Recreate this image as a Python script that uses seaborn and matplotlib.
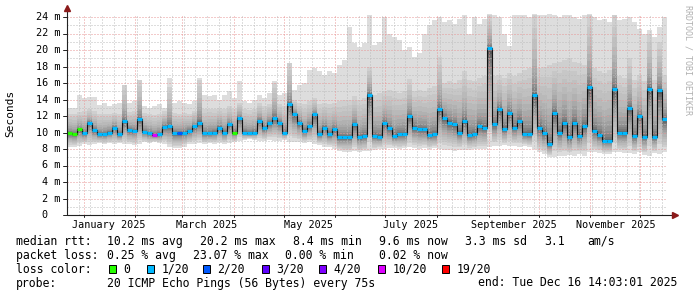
import numpy as np
import pandas as pd
import matplotlib
matplotlib.use("Agg")
import matplotlib.pyplot as plt
import matplotlib.dates as mdates
import matplotlib.transforms as mtransforms
from matplotlib.patches import Rectangle
import seaborn as sns

# ---------------- data (3-day consolidated bins, values in ms) ----------------
period_start = "2024-12-22"
bin_days = 3

median_ms = [9.9, 9.8, 10.4, 9.9, 11.2, 10.3, 9.8, 9.8, 10.0, 10.6,
             9.8, 11.4, 10.3, 10.2, 11.6, 10.1, 9.9, 9.7, 9.8, 10.7,
             10.8, 9.9, 9.9, 10.0, 10.2, 10.8, 11.2, 9.9, 9.9, 10.0,
             10.6, 10.0, 11.0, 10.0, 11.8, 10.0, 9.9, 10.0, 11.4, 10.5,
             11.2, 11.8, 11.2, 10.0, 13.4, 12.2, 11.2, 10.2, 10.8, 12.2,
             9.8, 10.6, 9.8, 10.4, 9.4, 9.4, 9.4, 11.0, 9.4, 9.6,
             14.6, 9.6, 9.5, 11.2, 10.5, 9.6, 9.8, 9.8, 12.0, 10.6,
             10.4, 10.4, 9.7, 9.8, 12.8, 11.8, 11.2, 11.0, 10.0, 11.4,
             9.7, 9.8, 10.8, 10.6, 20.2, 11.0, 12.8, 10.4, 12.4, 10.6,
             11.4, 9.8, 9.8, 14.5, 10.6, 9.9, 8.6, 12.4, 10.0, 11.2,
             9.4, 11.2, 9.6, 10.8, 15.5, 10.2, 9.7, 9.0, 9.0, 15.3,
             10.0, 10.0, 13.0, 9.6, 12.0, 9.5, 15.3, 9.5, 15.1, 11.6]

loss_level = [0, 0, 0, 1, 1, 1, 1, 1, 1, 1,
              1, 1, 1, 1, 1, 1, 1, 5, 1, 1,
              1, 1, 2, 1, 1, 1, 1, 1, 1, 1,
              1, 1, 1, 0, 1, 1, 1, 1, 1, 1,
              1, 1, 1, 1, 1, 1, 1, 1, 1, 1,
              1, 1, 1, 1, 1, 1, 1, 1, 1, 1,
              1, 1, 1, 1, 1, 1, 1, 1, 1, 1,
              1, 1, 1, 1, 1, 1, 1, 1, 1, 1,
              1, 1, 1, 1, 1, 1, 1, 1, 1, 1,
              1, 1, 1, 1, 1, 1, 1, 1, 1, 1,
              1, 1, 1, 1, 1, 1, 1, 1, 1, 1,
              1, 1, 1, 1, 1, 1, 1, 1, 1, 1]

smoke_low = [8.3, 8.3, 8.4, 8.6, 8.5, 8.6, 8.7, 8.6, 8.7, 8.6,
             8.7, 8.6, 8.6, 8.5, 8.6, 8.8, 8.7, 8.8, 8.7, 8.6,
             8.2, 8.1, 8.1, 8.3, 8.6, 8.6, 8.7, 8.6, 8.7, 8.6,
             8.7, 8.6, 8.7, 8.8, 9.0, 9.1, 9.2, 9.1, 9.0, 9.0,
             9.1, 9.0, 9.0, 9.1, 8.9, 8.8, 8.8, 8.7, 8.8, 8.6,
             8.5, 8.3, 8.2, 8.0, 7.7, 7.6, 7.6, 7.7, 7.6, 7.7,
             7.8, 7.9, 8.0, 8.0, 8.1, 8.1, 8.0, 8.1, 8.2, 8.1,
             8.0, 8.1, 8.0, 8.1, 8.0, 7.9, 7.9, 7.8, 7.9, 7.9,
             7.9, 8.0, 8.0, 8.0, 8.3, 8.4, 8.4, 8.5, 8.4, 8.4,
             8.3, 8.4, 8.2, 8.0, 7.6, 7.4, 7.0, 7.0, 7.2, 7.1,
             7.3, 7.2, 7.4, 7.2, 7.6, 7.6, 7.5, 7.4, 7.4, 7.6,
             7.6, 7.5, 7.5, 7.4, 7.6, 7.3, 7.2, 7.5, 7.4, 7.6]

smoke_mid = [12.3, 12.2, 12.5, 12.6, 12.8, 12.6, 12.2, 12.3, 12.2, 12.4,
             12.3, 15.8, 12.5, 12.6, 16.4, 12.4, 12.2, 12.1, 12.3, 12.6,
             15.5, 12.4, 12.3, 12.4, 12.3, 12.6, 16.4, 12.8, 12.9, 12.8,
             13.0, 12.8, 13.2, 12.9, 13.6, 12.8, 12.7, 12.9, 13.6, 13.2,
             13.5, 16.0, 13.4, 13.2, 18.4, 14.0, 13.6, 13.4, 13.8, 14.2,
             13.4, 13.6, 13.5, 13.6, 13.8, 13.9, 14.0, 14.4, 14.0, 14.2,
             18.0, 14.6, 14.8, 15.0, 15.2, 15.0, 14.8, 15.0, 16.5, 15.0,
             15.2, 15.0, 15.4, 15.6, 19.2, 16.0, 16.2, 16.0, 16.4, 17.5,
             16.4, 16.2, 16.6, 16.8, 24.2, 16.8, 17.0, 16.6, 17.2, 16.8,
             17.2, 17.6, 17.8, 24.2, 17.8, 18.0, 18.2, 18.4, 18.6, 18.8,
             19.0, 18.6, 18.4, 18.2, 24.2, 17.8, 17.4, 17.2, 17.6, 24.2,
             16.8, 16.6, 19.0, 16.4, 17.0, 16.2, 22.0, 16.4, 21.0, 17.0]

smoke_high = [13.0, 13.0, 14.6, 14.2, 14.3, 14.3, 13.3, 13.6, 13.2, 13.4,
              13.6, 15.8, 13.6, 13.8, 16.4, 13.2, 13.0, 13.2, 13.4, 13.0,
              16.6, 13.6, 13.8, 13.6, 13.5, 13.8, 16.6, 14.5, 14.4, 14.6,
              14.0, 14.6, 15.0, 14.2, 16.2, 13.8, 13.6, 14.0, 14.6, 14.2,
              14.8, 16.2, 14.6, 14.8, 18.4, 15.2, 15.8, 16.0, 17.6, 17.8,
              17.4, 17.0, 17.4, 17.2, 18.2, 18.8, 22.8, 20.8, 20.4, 20.8,
              24.2, 20.6, 21.0, 24.0, 22.0, 21.6, 21.2, 20.0, 20.4, 19.2,
              19.6, 22.0, 23.0, 23.6, 24.0, 23.4, 23.6, 23.2, 23.8, 24.2,
              22.0, 24.0, 23.2, 23.8, 24.4, 24.2, 24.0, 22.0, 20.5, 24.2,
              24.2, 24.2, 24.0, 24.4, 24.2, 24.2, 24.4, 24.2, 24.0, 24.2,
              24.2, 24.0, 23.8, 24.2, 24.4, 24.0, 23.6, 23.8, 23.4, 24.2,
              23.6, 23.8, 24.0, 23.4, 22.6, 22.0, 22.4, 21.6, 22.8, 24.0]

y_ticks = [0, 2, 4, 6, 8, 10, 12, 14, 16, 18, 20, 22, 24]
month_labels = ["January 2025", "March 2025", "May 2025", "July 2025",
                "September 2025", "November 2025"]
month_label_dates = ["2025-01-16", "2025-03-16", "2025-05-16", "2025-07-16",
                     "2025-09-16", "2025-11-16"]

loss_names = ["0", "1/20", "2/20", "3/20", "4/20", "10/20", "19/20"]
loss_colors = ["#26ff00", "#00b8ff", "#0059ff", "#5e00ff", "#7e00ff", "#dd00ff", "#ff0000"]

legend_rows = [
    [(16, "median rtt:"), (107, "10.2 ms avg"), (200, "20.2 ms max"),
     (293, "8.4 ms min"), (379, "9.6 ms now"), (465, "3.3 ms sd"),
     (544, "3.1"), (587, "am/s")],
    [(16, "packet loss:"), (107, "0.25 % avg"), (193, "23.07 % max"),
     (285, "0.00 % min"), (379, "0.02 % now")],
    [(16, "loss color:")],
    [(16, "probe:"), (107, "20 ICMP Echo Pings (56 Bytes) every 75s"),
     (478, "end: Tue Dec 16 14:03:01 2025")],
]
legend_row_y = [241.5, 255.3, 269.2, 283.0]
loss_box_x = [109, 147, 203, 262, 319, 378, 442]

# ---------------- figure ----------------
sns.set_theme(style="white")
plt.rcParams["font.family"] = ["DejaVu Sans Mono", "DejaVu Sans"]

W, H = 697, 297
fig = plt.figure(figsize=(W / 100, H / 100), dpi=100)
fig.patch.set_facecolor("white")
ymax = 24.4
ax = fig.add_axes([67 / W, (H - 215) / H, 600 / W, ymax * 8.25 / H])
ax.set_facecolor("white")

n = len(median_ms)
start = pd.Timestamp(period_start)
edges = [start + pd.Timedelta(days=bin_days * i) for i in range(n + 1)]
xe = mdates.date2num([e.to_pydatetime() for e in edges])
xs, xend = xe[:-1], xe[1:]

med = np.array(median_ms)
lo = np.array(smoke_low)
mid = np.array(smoke_mid)
hi = np.array(smoke_high)

def ext(a):
    return np.append(a, a[-1])

# light outer smoke
ax.fill_between(xe, ext(lo), ext(hi), step="post", color="#dddddd", lw=0, zorder=1)
# graded smoke toward the median
K = 14
for k in range(K, 0, -1):
    f = (k / K) ** 2.3
    up = med + f * (mid - med)
    dn = med - (k / K) ** 1.4 * (med - lo) * 0.85
    g = 0.22 + 0.59 * ((k - 1) / (K - 1)) ** 0.6
    ax.fill_between(xe, ext(dn), ext(up), step="post", color=(g, g, g), lw=0, zorder=1.1)

# grid
trans_xdata = mtransforms.blended_transform_factory(ax.transData, ax.transAxes)
trans_ydata = mtransforms.blended_transform_factory(ax.transAxes, ax.transData)
dot = (0, (1, 2))
for v in range(1, 25):
    ax.axhline(v, color="#e89696" if v % 2 == 0 else "#bcbcbc", lw=0.72, ls=dot, zorder=2)
months = pd.date_range("2025-01-01", "2025-12-01", freq="MS")
weeks = pd.date_range(start, edges[-1], freq="W-SUN")
for wk in weeks:
    if wk.day != 1:
        ax.axvline(mdates.date2num(wk.to_pydatetime()), color="#bcbcbc", lw=0.72, ls=dot, zorder=2)
for m in months:
    ax.axvline(mdates.date2num(m.to_pydatetime()), color="#e89696", lw=0.72, ls=dot, zorder=2)

# median line (black connecting steps + loss-coloured segments)
df = pd.DataFrame({"t": xe, "median": ext(med)})
sns.lineplot(data=df, x="t", y="median", drawstyle="steps-post", color="#111111",
             lw=0.8, estimator=None, ax=ax, zorder=3)
ax.hlines(med, xs, xend, colors=[loss_colors[l] for l in loss_level],
          lw=2.3, zorder=4, capstyle="butt")

ax.set_xlim(xe[0], xe[-1])
ax.set_ylim(0, ymax)
ax.set_xlabel("")
ax.set_ylabel("")
for s in ax.spines.values():
    s.set_visible(False)
ax.set_xticks([])
ax.set_yticks([])

# axes lines with arrows
ax.plot([0, 0], [0, 1.025], transform=ax.transAxes, color="#222222", lw=0.8, clip_on=False, zorder=5)
ax.plot([0, 1.012], [0, 0], transform=ax.transAxes, color="#222222", lw=0.8, clip_on=False, zorder=5)
ax.plot([0], [1.03], transform=ax.transAxes, marker="^", color="#8b1a1a", ms=4, clip_on=False, zorder=6)
ax.plot([1.013], [0], transform=ax.transAxes, marker=">", color="#8b1a1a", ms=4, clip_on=False, zorder=6)

# y tick marks and labels
for v in y_ticks:
    ax.plot([-0.006, 0], [v, v], transform=trans_ydata, color="#222222", lw=0.7, clip_on=False)
    if v == 0:
        ax.text((48 - 67) / 600, v, "0", transform=trans_ydata, ha="right", va="center",
                fontsize=7.3, color="black")
    else:
        ax.text((60 - 67) / 600, v, f"{v} m", transform=trans_ydata, ha="right", va="center",
                fontsize=7.3, color="black")

# x tick marks at months
for m in months:
    ax.plot([mdates.date2num(m.to_pydatetime())] * 2, [-0.012, 0], transform=trans_xdata,
            color="#222222", lw=0.7, clip_on=False)
for lab, d in zip(month_labels, month_label_dates):
    ax.text(mdates.date2num(pd.Timestamp(d).to_pydatetime()), -10 / (ymax * 8.25), lab,
            transform=trans_xdata, ha="center", va="center", fontsize=7.3, color="black")

# y axis title and watermark
fig.text(10 / W, 1 - 113 / H, "Seconds", rotation=90, ha="center", va="center",
         fontsize=8.0, color="black")
fig.text(688 / W, 1 - 5 / H, "RRDTOOL / TOBI OETIKER", rotation=270, ha="center", va="top",
         fontsize=6.0, color="#b0b0b0")

# legend
for row, yy in zip(legend_rows, legend_row_y):
    for xx, txt in row:
        fig.text(xx / W, 1 - yy / H, txt, ha="left", va="center", fontsize=8.3, color="black")
yy = legend_row_y[2]
for bx, name, col in zip(loss_box_x, loss_names, loss_colors):
    fig.add_artist(Rectangle((bx / W, 1 - (yy + 3.6) / H), 7 / W, 7.5 / H,
                             transform=fig.transFigure, facecolor=col, edgecolor="black", lw=0.7))
    fig.text((bx + 14.5) / W, 1 - yy / H, name, ha="left", va="center", fontsize=8.3, color="black")

fig.savefig("out.png", dpi=100)
